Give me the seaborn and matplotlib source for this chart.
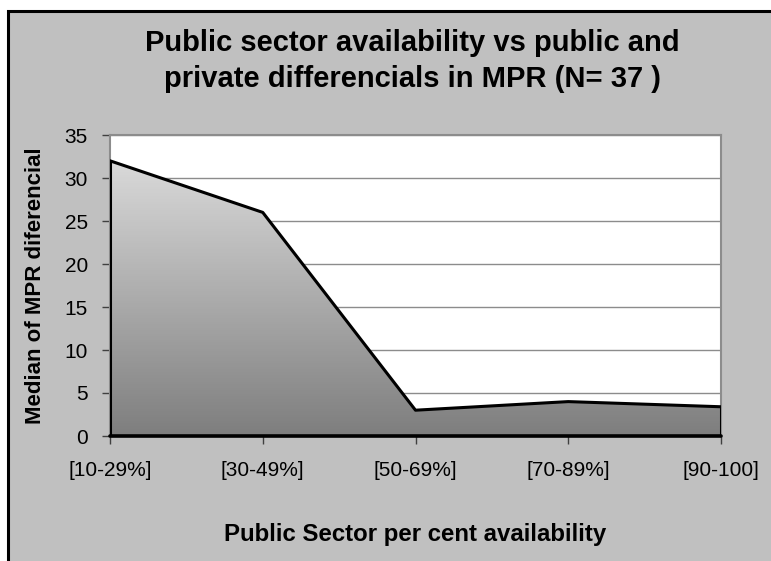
import numpy as np
import pandas as pd
import matplotlib
matplotlib.use("Agg")
import matplotlib.pyplot as plt
from matplotlib.patches import Rectangle, Polygon
import seaborn as sns

categories = ["[10-29%]", "[30-49%]", "[50-69%]", "[70-89%]", "[90-100]"]
median_diff = [32, 26, 3, 4, 3.4]
y_ticks = [0, 5, 10, 15, 20, 25, 30, 35]

title = "Public sector availability vs public and\nprivate differencials in MPR (N= 37 )"
x_label = "Public Sector per cent availability"
y_label = "Median of MPR diferencial"

df = pd.DataFrame({"pos": np.arange(len(categories)), "value": median_diff})

sns.set_theme(style="white")
plt.rcParams["font.family"] = ["Liberation Sans", "DejaVu Sans"]

W, H = 771, 561
fig = plt.figure(figsize=(W / 100, H / 100), dpi=100, facecolor="white")

# grey chart frame, clipped on the right and bottom
frame = Rectangle((8 / W, -0.05), 1.2, 1 - 11 / H + 0.05, transform=fig.transFigure,
                  facecolor="#c0c0c0", edgecolor="black", linewidth=2.2, zorder=-10)
fig.patches.append(frame)

ax = fig.add_axes([110 / W, 1 - 436 / H, (721 - 110) / W, (436 - 135) / H])
ax.set_facecolor("white")

# gradient-filled area under the curve
xs = df["pos"].to_numpy()
ys = df["value"].to_numpy()
poly_pts = np.column_stack([np.r_[xs[0], xs, xs[-1]], np.r_[0, ys, 0]])
poly = Polygon(poly_pts, closed=True, facecolor="none", edgecolor="none")
ax.add_patch(poly)
grad = np.linspace(0, 1, 256).reshape(-1, 1)
cmap = matplotlib.colors.LinearSegmentedColormap.from_list("g", ["#7e7e7e", "#e2e2e2"])
im = ax.imshow(grad, extent=[xs[0], xs[-1], 0, 35], origin="lower", aspect="auto",
               cmap=cmap, zorder=2)
im.set_clip_path(poly)

sns.lineplot(data=df, x="pos", y="value", ax=ax, color="black", linewidth=2.2, zorder=4)
ax.plot([xs[0], xs[0]], [0, ys[0]], color="black", lw=2.2, zorder=4)
ax.plot([xs[-1], xs[-1]], [0, ys[-1]], color="black", lw=2.2, zorder=4)
ax.plot([xs[0], xs[-1]], [0, 0], color="black", lw=2.6, zorder=4, clip_on=False)

ax.set_xlim(xs[0], xs[-1])
ax.set_ylim(0, 35)
ax.set_yticks(y_ticks)
ax.set_xticks(xs)
ax.set_xticklabels(categories)
ax.grid(axis="y", color="#8c8c8c", linewidth=1.0, zorder=1)
ax.set_axisbelow(True)
for s in ax.spines.values():
    s.set_color("#8c8c8c")
    s.set_linewidth(1.5)

ax.tick_params(axis="both", which="both", direction="out", length=6, width=1,
               color="#404040", labelsize=15, labelcolor="black", bottom=True, left=True)
ax.tick_params(axis="x", pad=12)
ax.tick_params(axis="y", pad=10)

ax.set_xlabel(x_label, fontsize=17.3, fontweight="bold", labelpad=31, color="black")
ax.set_ylabel(y_label, fontsize=16, fontweight="bold", labelpad=13, color="black")

fig.text(412 / W, 1 - 61 / H, title, ha="center", va="center", fontsize=21,
         fontweight="bold", linespacing=1.35, color="black")

fig.savefig("out.png", dpi=100, facecolor="white")
